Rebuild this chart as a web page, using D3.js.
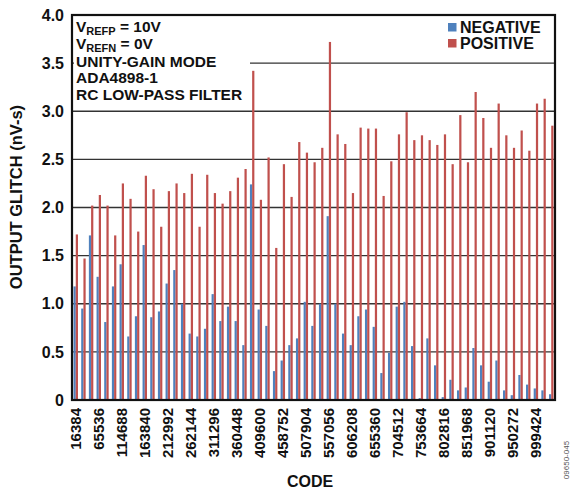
<!DOCTYPE html>
<html><head><meta charset="utf-8">
<script src="https://cdn.jsdelivr.net/npm/d3@7"></script>
<style>
body{margin:0;background:#fff;}
text{font-family:"Liberation Sans",Arial,sans-serif;font-weight:bold;fill:#111;}
</style></head>
<body><svg id="c" width="570" height="489"></svg>
<script>
const codes = d3.range(1, 64).map(k => k * 16384);
const negative = [1.18,0.95,1.71,1.28,0.81,1.18,1.41,0.66,0.87,1.61,
  0.86,0.92,1.21,1.35,1.00,0.69,0.66,0.74,1.10,0.82,
  0.97,0.82,0.57,2.24,0.94,0.77,0.30,0.41,0.57,0.64,
  1.02,0.77,1.00,1.91,1.00,0.69,0.57,0.87,0.94,0.76,
  0.28,0.49,0.97,1.02,0.56,0.02,0.64,0.36,0.03,0.21,
  0.10,0.13,0.54,0.36,0.19,0.41,0.10,0.05,0.26,0.16,
  0.12,0.10,0.06];
const positive = [1.72,1.47,2.02,2.13,2.02,1.71,2.25,2.09,1.75,2.33,
  2.19,1.80,2.17,2.25,2.15,2.35,1.80,2.34,2.15,2.04,
  2.17,2.31,2.40,3.42,2.08,2.52,1.58,2.45,2.11,2.68,
  2.57,2.47,2.62,3.72,2.76,2.66,2.15,2.83,2.82,2.82,
  2.12,2.48,2.76,2.99,2.70,2.75,2.70,2.65,2.76,2.45,
  2.96,2.47,3.20,2.93,2.62,3.08,2.75,2.62,2.80,2.59,
  3.08,3.13,2.85];
const seriesNames = ["NEGATIVE","POSITIVE"];
const colors = ["#4F81BD","#C0504D"];
const yTicks = [0,0.5,1.0,1.5,2.0,2.5,3.0,3.5,4.0];
const xTickCodes = codes.filter((c,i) => i % 3 === 0);
const notes = [["V","REFP"," = 10V"],["V","REFN"," = 0V"],["UNITY-GAIN MODE"],["ADA4898-1"],["RC LOW-PASS FILTER"]];

const svg = d3.select("#c");
const L = 72, R = 555, T = 15, B = 400;
const x0 = d3.scaleBand().domain(codes).range([L, R]).paddingInner(0.42).paddingOuter(0.2);
const x1 = d3.scaleBand().domain(seriesNames).range([0, x0.bandwidth()]);
const y = d3.scaleLinear().domain([0, 4]).range([B, T]);

// gridlines
svg.append("g").selectAll("line").data(yTicks.filter(v => v > 0 && v < 4)).join("line")
  .attr("x1", L).attr("x2", R).attr("y1", d => y(d)).attr("y2", d => y(d))
  .attr("stroke", "#333").attr("stroke-width", 1.4);

// white area behind notes
svg.append("rect").attr("x", L + 2).attr("y", T + 2).attr("width", 176).attr("height", 88).attr("fill", "#fff");

// bars
const g = svg.append("g").selectAll("g").data(codes).join("g")
  .attr("transform", d => `translate(${x0(d)},0)`);
g.selectAll("rect").data((d, i) => [
    {s: seriesNames[0], v: negative[i]},
    {s: seriesNames[1], v: positive[i]}])
  .join("rect")
  .attr("x", d => x1(d.s)).attr("width", x1.bandwidth())
  .attr("y", d => y(d.v)).attr("height", d => y(0) - y(d.v))
  .attr("fill", (d, i) => colors[i]);

// frame
svg.append("rect").attr("x", L).attr("y", T).attr("width", R - L).attr("height", B - T)
  .attr("fill", "none").attr("stroke", "#111").attr("stroke-width", 2.2);

// y axis
const ya = svg.append("g").attr("transform", `translate(${L},0)`)
  .call(d3.axisLeft(y).tickValues(yTicks).tickFormat(d => d === 0 ? "0" : d3.format(".1f")(d)).tickSize(0).tickPadding(8));
ya.select(".domain").remove();
ya.selectAll("text").style("font-size", "16px").style("font-family", "Liberation Sans, Arial, sans-serif").style("font-weight", "bold").attr("fill", "#111");

// x axis
const xa = svg.append("g").attr("transform", `translate(0,${B})`)
  .call(d3.axisBottom(x0).tickValues(xTickCodes).tickSize(0).tickPadding(0));
xa.select(".domain").remove();
xa.selectAll("text").style("font-size", "15px").style("font-family", "Liberation Sans, Arial, sans-serif").style("font-weight", "bold").attr("fill", "#111")
  .attr("transform", "rotate(-90)").attr("text-anchor", "end")
  .attr("x", -8).attr("y", 0).attr("dy", "0.36em");

// axis titles
svg.append("text").attr("transform", `translate(22,197) rotate(-90)`)
  .attr("text-anchor", "middle").style("font-size", "16.5px").text("OUTPUT GLITCH (nV-s)");
svg.append("text").attr("x", 310).attr("y", 487).attr("text-anchor", "middle")
  .style("font-size", "16px").text("CODE");
svg.append("text").attr("transform", "translate(569,460) rotate(-90)")
  .attr("text-anchor", "middle").style("font-size", "8px").style("font-weight", "normal")
  .style("fill", "#555").text("09650-045");

// notes
const ny = [32, 49, 67, 83, 100];
notes.forEach((n, i) => {
  const t = svg.append("text").attr("x", 76).attr("y", ny[i]).style("font-size", "15.5px");
  if (n.length === 1) { t.text(n[0]); }
  else {
    t.append("tspan").text(n[0]);
    t.append("tspan").attr("dy", 3).style("font-size", "11px").text(n[1]);
    t.append("tspan").attr("dy", -3).text(n[2]);
  }
});

// legend
const lg = svg.append("g").attr("transform", "translate(448,23)");
seriesNames.forEach((s, i) => {
  lg.append("rect").attr("x", 0).attr("y", i * 16).attr("width", 8.5).attr("height", 8.5).attr("fill", colors[i]);
  lg.append("text").attr("x", 12).attr("y", i * 16 + 10).style("font-size", "16px").text(s);
});
</script></body></html>
